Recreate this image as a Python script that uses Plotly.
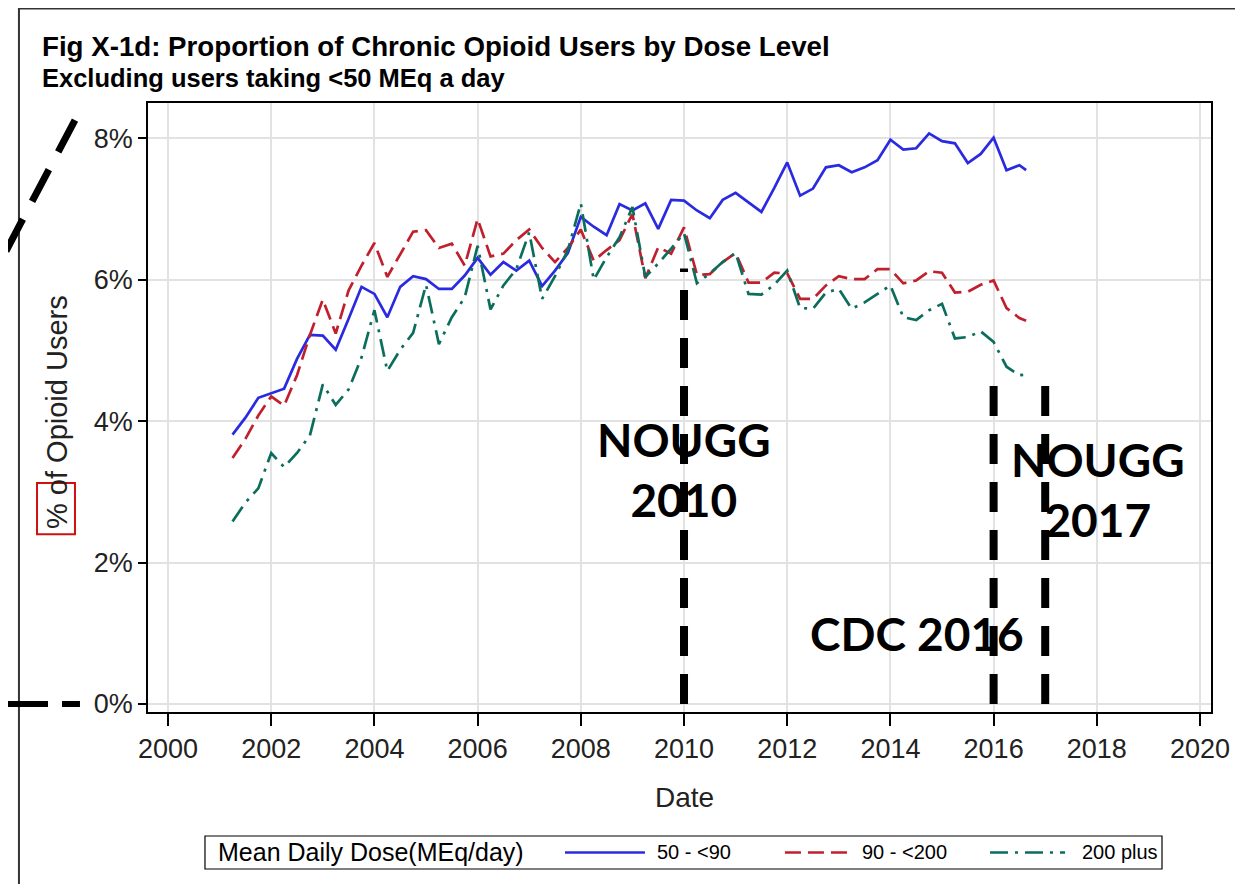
import plotly.graph_objects as go

# ---------------- data ----------------
dates = [2001.25 + 0.25 * i for i in range(62)] + [2016.63]

dose_50_90 = [3.81, 4.05, 4.33, 4.40, 4.46, 4.88, 5.22, 5.21, 5.01, 5.45, 5.90, 5.80,
              5.47, 5.90, 6.05, 6.01, 5.87, 5.87, 6.06, 6.31, 6.07, 6.25, 6.13, 6.27,
              5.91, 6.13, 6.38, 6.89, 6.75, 6.63, 7.07, 6.98, 7.08, 6.72, 7.13, 7.12,
              6.98, 6.87, 7.13, 7.23, 7.09, 6.96, 7.30, 7.66, 7.19, 7.29, 7.59, 7.62,
              7.52, 7.59, 7.69, 7.98, 7.84, 7.86, 8.07, 7.96, 7.93, 7.65, 7.78, 8.01,
              7.55, 7.62, 7.55]

dose_90_200 = [3.48, 3.75, 4.08, 4.35, 4.22, 4.65, 5.22, 5.72, 5.24, 5.85, 6.20, 6.52,
               6.04, 6.35, 6.68, 6.70, 6.45, 6.51, 6.20, 6.86, 6.33, 6.37, 6.56, 6.71,
               6.45, 6.25, 6.45, 6.71, 6.27, 6.42, 6.56, 6.93, 6.02, 6.46, 6.37, 6.74,
               6.07, 6.08, 6.25, 6.38, 5.96, 5.96, 6.10, 6.09, 5.73, 5.73, 5.92, 6.05,
               6.01, 6.01, 6.15, 6.15, 5.95, 5.99, 6.12, 6.10, 5.82, 5.83, 5.93, 5.99,
               5.60, 5.46, 5.42]

dose_200_plus = [2.58, 2.85, 3.05, 3.55, 3.35, 3.55, 3.80, 4.52, 4.23, 4.45, 4.90, 5.57,
                 4.71, 5.01, 5.25, 5.93, 5.09, 5.47, 5.75, 6.48, 5.58, 5.92, 6.15, 6.67,
                 5.73, 6.05, 6.42, 7.08, 6.00, 6.32, 6.60, 7.03, 6.04, 6.23, 6.44, 6.66,
                 5.95, 6.09, 6.25, 6.38, 5.80, 5.79, 5.93, 6.13, 5.60, 5.59, 5.82, 5.87,
                 5.59, 5.68, 5.80, 5.92, 5.47, 5.43, 5.57, 5.66, 5.17, 5.19, 5.27, 5.12,
                 4.77, 4.65, 4.66]

series_names = ["50 - <90", "90 - <200", "200 plus"]
series_colors = ["#2a2ae0", "#c0202e", "#0b6e5c"]
series_dash = ["solid", "16px,7px", "18px,7px,3px,7px"]

x_ticks = [2000, 2002, 2004, 2006, 2008, 2010, 2012, 2014, 2016, 2018, 2020]
y_ticks = [0, 2, 4, 6, 8]

# policy markers: (year, top of dashed line in %)
policy_years = [2010, 2016, 2017]
policy_tops = [6.16, 4.69, 4.65]

FONT = "Liberation Sans, Arial, sans-serif"
BIG = "Lato, Open Sans, sans-serif"

fig = go.Figure()
for vals, name, col, dsh in zip([dose_50_90, dose_90_200, dose_200_plus],
                                series_names, series_colors, series_dash):
    fig.add_trace(go.Scatter(x=dates, y=vals, mode="lines", name=name,
                             line=dict(color=col, width=2.7, dash=dsh),
                             showlegend=False))

shapes = []
# vertical policy lines
for yr, top in zip(policy_years, policy_tops):
    shapes.append(dict(type="line", xref="x", yref="y", x0=yr, x1=yr, y0=0, y1=top,
                       line=dict(color="black", width=8, dash="30px,18px"), layer="above"))

# decorative outer lines
shapes.append(dict(type="line", xref="paper", yref="paper", x0=-0.1214, x1=1.04,
                   y0=1.156, y1=1.156, line=dict(color="#333333", width=3)))
shapes.append(dict(type="line", xref="paper", yref="paper", x0=-0.1214, x1=-0.1214,
                   y0=1.156, y1=-0.30, line=dict(color="#333333", width=2)))
# diagonal dashes top-left
shapes.append(dict(type="line", xref="paper", yref="paper", x0=-0.0687, y0=0.972,
                   x1=-0.1393, y1=0.738, line=dict(color="black", width=7, dash="36px,20px")))
# horizontal dashes at 0%
shapes.append(dict(type="line", xref="paper", yref="paper", x0=-0.1317, y0=0.0131,
                   x1=-0.0640, y1=0.0131, line=dict(color="black", width=6, dash="40px,14px")))
# red box around %
shapes.append(dict(type="rect", xref="paper", yref="paper", x0=-0.1044, x1=-0.0687,
                   y0=0.292, y1=0.376, line=dict(color="#d01010", width=2)))

# custom legend
shapes.append(dict(type="rect", xref="paper", yref="paper", x0=0.0536, x1=0.9539,
                   y0=-0.2578, y1=-0.2036, line=dict(color="black", width=1.2),
                   fillcolor="white"))
leg_y = -0.2307
sample_x = [(0.3923, 0.4675), (0.5992, 0.6604), (0.7921, 0.8627)]
label_x = [0.4770, 0.6698, 0.8768]
annotations = []
for (a, b), lx, name, col, dsh in zip(sample_x, label_x, series_names, series_colors, series_dash):
    shapes.append(dict(type="line", xref="paper", yref="paper", x0=a, x1=b, y0=leg_y, y1=leg_y,
                       line=dict(color=col, width=2.7, dash=dsh)))
    annotations.append(dict(xref="paper", yref="paper", x=lx, y=leg_y, text=name,
                            showarrow=False, xanchor="left", yanchor="middle",
                            font=dict(family=FONT, size=20, color="black")))
annotations.append(dict(xref="paper", yref="paper", x=0.064, y=leg_y,
                        text="Mean Daily Dose(MEq/day)", showarrow=False,
                        xanchor="left", yanchor="middle",
                        font=dict(family=FONT, size=25, color="black")))

# titles
annotations.append(dict(xref="paper", yref="paper", x=-0.1016, y=1.092,
                        text="<b>Fig X-1d: Proportion of Chronic Opioid Users by Dose Level</b>",
                        showarrow=False, xanchor="left", yanchor="middle",
                        font=dict(family=FONT, size=27.7, color="black")))
annotations.append(dict(xref="paper", yref="paper", x=-0.1016, y=1.041,
                        text="<b>Excluding users taking &lt;50 MEq a day</b>",
                        showarrow=False, xanchor="left", yanchor="middle",
                        font=dict(family=FONT, size=25.5, color="black")))
annotations.append(dict(xref="paper", yref="paper", x=-0.0856, y=0.4926,
                        text="% of Opioid Users", textangle=-90, showarrow=False,
                        xanchor="center", yanchor="middle",
                        font=dict(family=FONT, size=29, color="#222222")))
annotations.append(dict(xref="paper", yref="paper", x=0.505, y=-0.14,
                        text="Date", showarrow=False, xanchor="center", yanchor="middle",
                        font=dict(family=FONT, size=28, color="#222222")))

# big policy labels
big_labels = [("NOUGG<br>2010", 2010.0, 3.32), ("NOUGG<br>2017", 2018.02, 3.03),
              ("CDC 2016", 2014.52, 1.0)]
for txt, xx, yy in big_labels:
    annotations.append(dict(xref="x", yref="y", x=xx, y=yy, text="<b>" + txt + "</b>",
                            showarrow=False, xanchor="center", yanchor="middle",
                            font=dict(family=BIG, size=46, color="black")))

fig.update_layout(
    width=1235, height=876,
    margin=dict(l=140, r=32, t=95, b=172),
    paper_bgcolor="white", plot_bgcolor="white",
    shapes=shapes, annotations=annotations,
    showlegend=False,
)
fig.update_xaxes(range=[1999.612, 2020.213], tickvals=x_ticks, ticktext=[str(t) for t in x_ticks],
                 showgrid=True, gridcolor="#e2e2e2", gridwidth=1.5,
                 showline=True, linecolor="black", linewidth=1.5, mirror=True,
                 ticks="outside", ticklen=12, tickwidth=1.5, tickcolor="black",
                 tickfont=dict(family=FONT, size=27, color="#222222"), zeroline=False)
fig.update_yaxes(range=[-0.113, 8.5], tickvals=y_ticks, ticktext=[f"{t}%" for t in y_ticks],
                 showgrid=True, gridcolor="#e2e2e2", gridwidth=1.5,
                 showline=True, linecolor="black", linewidth=1.5, mirror=True,
                 ticks="outside", ticklen=8, tickwidth=1.5, tickcolor="black",
                 tickfont=dict(family=FONT, size=27, color="#222222"), zeroline=False)

fig.write_html("out.html")
